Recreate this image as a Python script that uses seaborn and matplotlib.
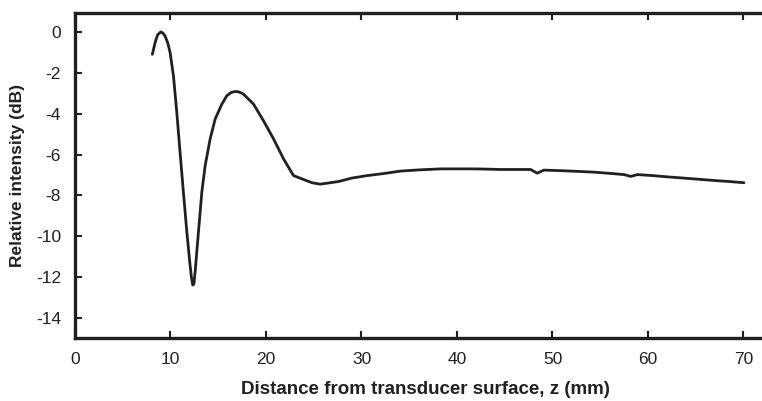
import matplotlib
matplotlib.use("Agg")
import matplotlib.pyplot as plt
import seaborn as sns
import pandas as pd

z_mm = [8.10, 8.39, 8.65, 8.98, 9.2, 9.43, 9.7, 9.96, 10.31, 10.66, 11.0, 11.35, 11.71, 12.05,
        12.2, 12.33, 12.45, 12.58, 12.93, 13.28, 13.63, 14.15, 14.68, 15.38, 15.9, 16.35,
        16.8, 17.2, 17.64, 18.69, 19.74, 20.79, 21.84, 22.88, 23.93, 24.81, 25.68,
        26.73, 27.6, 29.0, 30.6, 32.3, 34.07, 36.0, 38.3, 40.0, 41.75, 43.0, 44.5,
        46.0, 47.7, 48.4, 49.1, 51.0, 52.5, 54.3, 56.0, 57.5, 58.2, 58.9, 60.5, 62.0,
        64.5, 66.9, 68.5, 70.05]
intensity_db = [-1.08, -0.50, -0.12, 0.02, -0.03, -0.18, -0.5, -0.99, -2.14, -3.93, -5.88, -7.84, -9.79, -11.43,
                -12.05, -12.4, -12.35, -11.75, -9.79, -7.84, -6.54, -5.23, -4.25, -3.52, -3.11, -2.95,
                -2.9, -2.93, -3.03, -3.52, -4.34, -5.23, -6.21, -7.03, -7.22, -7.38, -7.45,
                -7.38, -7.32, -7.15, -7.03, -6.93, -6.81, -6.75, -6.7, -6.7, -6.7, -6.71, -6.73,
                -6.73, -6.73, -6.91, -6.76, -6.79, -6.82, -6.86, -6.92, -6.98, -7.07, -6.98, -7.03, -7.09,
                -7.18, -7.27, -7.32, -7.38]

x_ticks = [0, 10, 20, 30, 40, 50, 60, 70]
y_ticks = [0, -2, -4, -6, -8, -10, -12, -14]

df = pd.DataFrame({"z": z_mm, "I": intensity_db})

sns.set_theme(style="ticks")
plt.rcParams['font.family'] = ['Liberation Sans', 'DejaVu Sans']

fig = plt.figure(figsize=(7.62, 4.01), dpi=100)
ax = fig.add_axes([75/762, 63/401, 700/762, 325/401])

sns.lineplot(data=df, x="z", y="I", ax=ax, color="#231f20", linewidth=2.0, sort=False)

ax.set_xlim(0, 73.3)
ax.set_ylim(-15, 0.95)
ax.set_xticks(x_ticks)
ax.set_yticks(y_ticks)
ax.set_xticklabels([str(t) for t in x_ticks])
ax.set_yticklabels([str(t) for t in y_ticks])
ax.tick_params(direction="in", top=True, right=False, bottom=True, left=True,
               length=5, width=1.5, labelsize=12.5, colors="#231f20", pad=10)
for s in ax.spines.values():
    s.set_linewidth(2.4)
    s.set_color("#231f20")

ax.set_xlabel("Distance from transducer surface, z (mm)", fontsize=13.5,
              fontweight="bold", color="#231f20", labelpad=10)
ax.set_ylabel("Relative intensity (dB)", fontsize=12.5, fontweight="bold",
              color="#231f20", labelpad=8)

fig.savefig("out.png", dpi=100)
